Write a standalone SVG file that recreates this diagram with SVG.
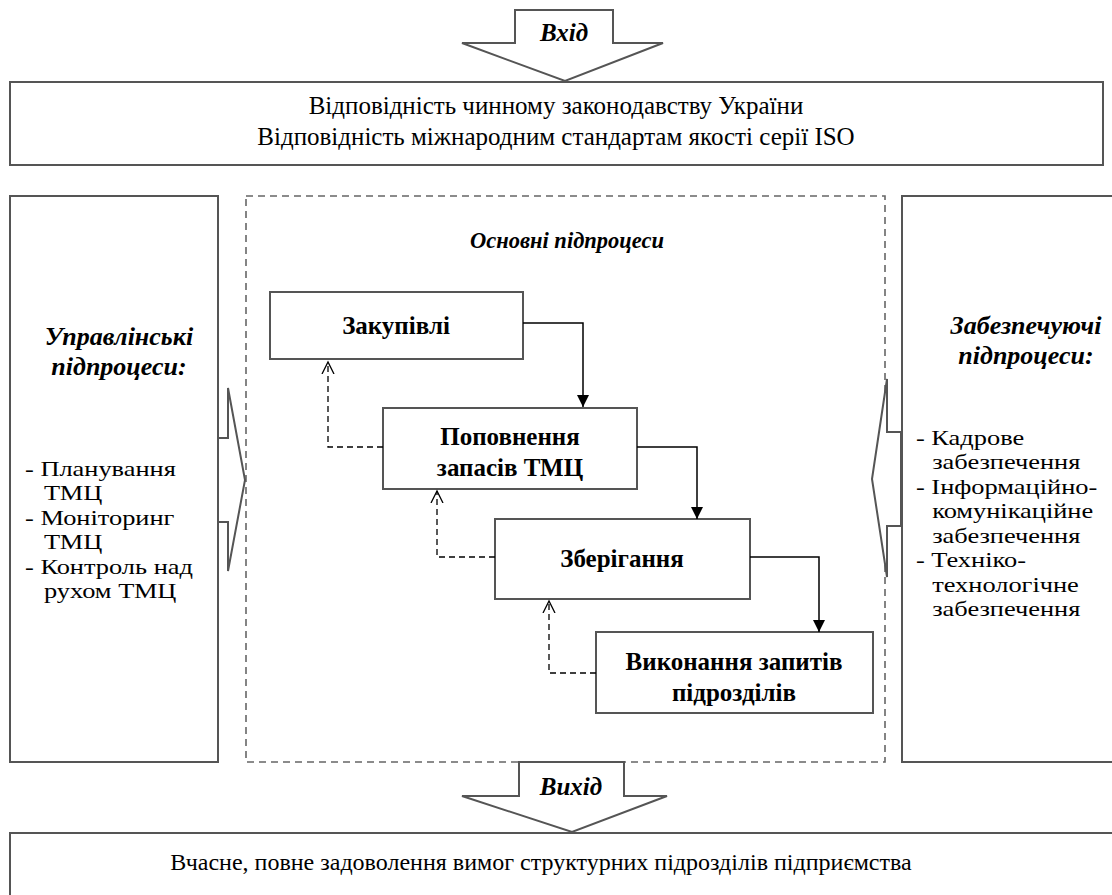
<svg xmlns="http://www.w3.org/2000/svg" width="1112" height="895" viewBox="0 0 1112 895">
<defs>
<marker id="fa" markerUnits="userSpaceOnUse" markerWidth="14" markerHeight="14" refX="12" refY="6" orient="auto">
<path d="M0,0 L12,6 L0,12 Z" fill="#000"/>
</marker>
<marker id="oa" markerUnits="userSpaceOnUse" markerWidth="16" markerHeight="16" refX="12" refY="7" orient="auto">
<path d="M0,1 L12,7 L0,13" fill="none" stroke="#000" stroke-width="1.3" stroke-dasharray="none"/>
</marker>
</defs>
<rect width="1112" height="895" fill="#fff"/>

<g id="input-arrow">
<polygon points="515,10 613,10 613,43 663,43 565,81 462,43 515,43" fill="#fff" stroke="#555" stroke-width="2"/>
<text x="564" y="41" font-family="Liberation Serif, serif" font-size="25" font-weight="bold" font-style="italic" text-anchor="middle">Вхід</text>
</g>

<g id="requirements">
<rect x="10" y="82" width="1093" height="83" fill="#fff" stroke="#555" stroke-width="2"/>
<text x="556" y="114" font-family="Liberation Serif, serif" font-size="25" text-anchor="middle">Відповідність чинному законодавству України</text>
<text x="556" y="145" font-family="Liberation Serif, serif" font-size="25" text-anchor="middle">Відповідність міжнародним стандартам якості серії ISO</text>
</g>

<g id="main-subprocesses">
<rect x="246" y="196" width="639" height="566" fill="none" stroke="#666" stroke-width="1.6" stroke-dasharray="7,5"/>
<text x="567" y="248" font-family="Liberation Serif, serif" font-size="22.5" font-weight="bold" font-style="italic" text-anchor="middle">Основні підпроцеси</text>
</g>

<g id="management">
<rect x="10" y="196" width="208" height="566" fill="#fff" stroke="#555" stroke-width="2"/>
<text x="119" y="345" font-family="Liberation Serif, serif" font-size="26" font-weight="bold" font-style="italic" text-anchor="middle">Управлінські</text>
<text x="119" y="375" font-family="Liberation Serif, serif" font-size="26" font-weight="bold" font-style="italic" text-anchor="middle">підпроцеси:</text>
<g transform="translate(25,0) scale(1.2,1) translate(-25,0)" font-family="Liberation Serif, serif" font-size="22">
<text x="25" y="476">- Планування</text>
<text x="40.8" y="500.5">ТМЦ</text>
<text x="25" y="525">- Моніторинг</text>
<text x="40.8" y="549.5">ТМЦ</text>
<text x="25" y="574">- Контроль над</text>
<text x="40.8" y="598.5">рухом ТМЦ</text>
</g>
</g>
<g id="management-arrow">
<polygon points="218,438 228,438 228,388 245,480 228,571 228,522 218,522" fill="#fff" stroke="#555" stroke-width="2"/>
</g>

<g id="support">
<rect x="902" y="196" width="260" height="566" fill="#fff" stroke="#555" stroke-width="2"/>
<text x="1026" y="334" font-family="Liberation Serif, serif" font-size="26" font-weight="bold" font-style="italic" text-anchor="middle">Забезпечуючі</text>
<text x="1026" y="364" font-family="Liberation Serif, serif" font-size="26" font-weight="bold" font-style="italic" text-anchor="middle">підпроцеси:</text>
<g transform="translate(916,0) scale(1.2,1) translate(-916,0)" font-family="Liberation Serif, serif" font-size="22">
<text x="916" y="445">- Кадрове</text>
<text x="929.5" y="469.5">забезпечення</text>
<text x="916" y="494">- Інформаційно-</text>
<text x="929.5" y="518.5">комунікаційне</text>
<text x="929.5" y="543">забезпечення</text>
<text x="916" y="567.5">- Техніко-</text>
<text x="929.5" y="592">технологічне</text>
<text x="929.5" y="616.5">забезпечення</text>
</g>
</g>
<g id="support-arrow">
<polygon points="901,432 887,432 887,379 872,479 887,577 887,526 901,526" fill="#fff" stroke="#555" stroke-width="2"/>
</g>

<g id="n-purchase">
<rect x="270" y="292" width="253" height="67" fill="#fff" stroke="#555" stroke-width="2"/>
<text x="396" y="334" font-family="Liberation Serif, serif" font-size="25" font-weight="bold" text-anchor="middle">Закупівлі</text>
</g>
<g id="n-replenish">
<rect x="383" y="408" width="254" height="81" fill="#fff" stroke="#555" stroke-width="2"/>
<text x="510" y="445" font-family="Liberation Serif, serif" font-size="25" font-weight="bold" text-anchor="middle">Поповнення</text>
<text x="510" y="476" font-family="Liberation Serif, serif" font-size="25" font-weight="bold" text-anchor="middle">запасів ТМЦ</text>
</g>
<g id="n-storage">
<rect x="495" y="519" width="255" height="80" fill="#fff" stroke="#555" stroke-width="2"/>
<text x="622" y="567" font-family="Liberation Serif, serif" font-size="25" font-weight="bold" text-anchor="middle">Зберігання</text>
</g>
<g id="n-requests">
<rect x="596" y="632" width="277" height="81" fill="#fff" stroke="#555" stroke-width="2"/>
<text x="734" y="670" font-family="Liberation Serif, serif" font-size="25" font-weight="bold" text-anchor="middle">Виконання запитів</text>
<text x="734" y="701" font-family="Liberation Serif, serif" font-size="25" font-weight="bold" text-anchor="middle">підрозділів</text>
</g>

<g id="connectors" fill="none" stroke="#000">
<path d="M523,323 H583 V407" stroke-width="1.5" marker-end="url(#fa)"/>
<path d="M637,447 H697 V519" stroke-width="1.5" marker-end="url(#fa)"/>
<path d="M750,557 H819 V632" stroke-width="1.5" marker-end="url(#fa)"/>
<path d="M383,447 H328 V362" stroke-width="1.3" stroke-dasharray="6,4" marker-end="url(#oa)"/>
<path d="M495,557 H437 V491" stroke-width="1.3" stroke-dasharray="6,4" marker-end="url(#oa)"/>
<path d="M596,673 H549 V601" stroke-width="1.3" stroke-dasharray="6,4" marker-end="url(#oa)"/>
</g>

<g id="output-arrow">
<polygon points="519,762 624,762 624,796 667,796 572,832 462,796 519,796" fill="#fff" stroke="#555" stroke-width="2"/>
<text x="571" y="795" font-family="Liberation Serif, serif" font-size="25" font-weight="bold" font-style="italic" text-anchor="middle">Вихід</text>
</g>

<g id="result">
<rect x="10" y="833" width="1160" height="80" fill="#fff" stroke="#555" stroke-width="2"/>
<text x="541" y="870" font-family="Liberation Serif, serif" font-size="24" text-anchor="middle">Вчасне, повне задоволення вимог структурних підрозділів підприємства</text>
</g>
</svg>
